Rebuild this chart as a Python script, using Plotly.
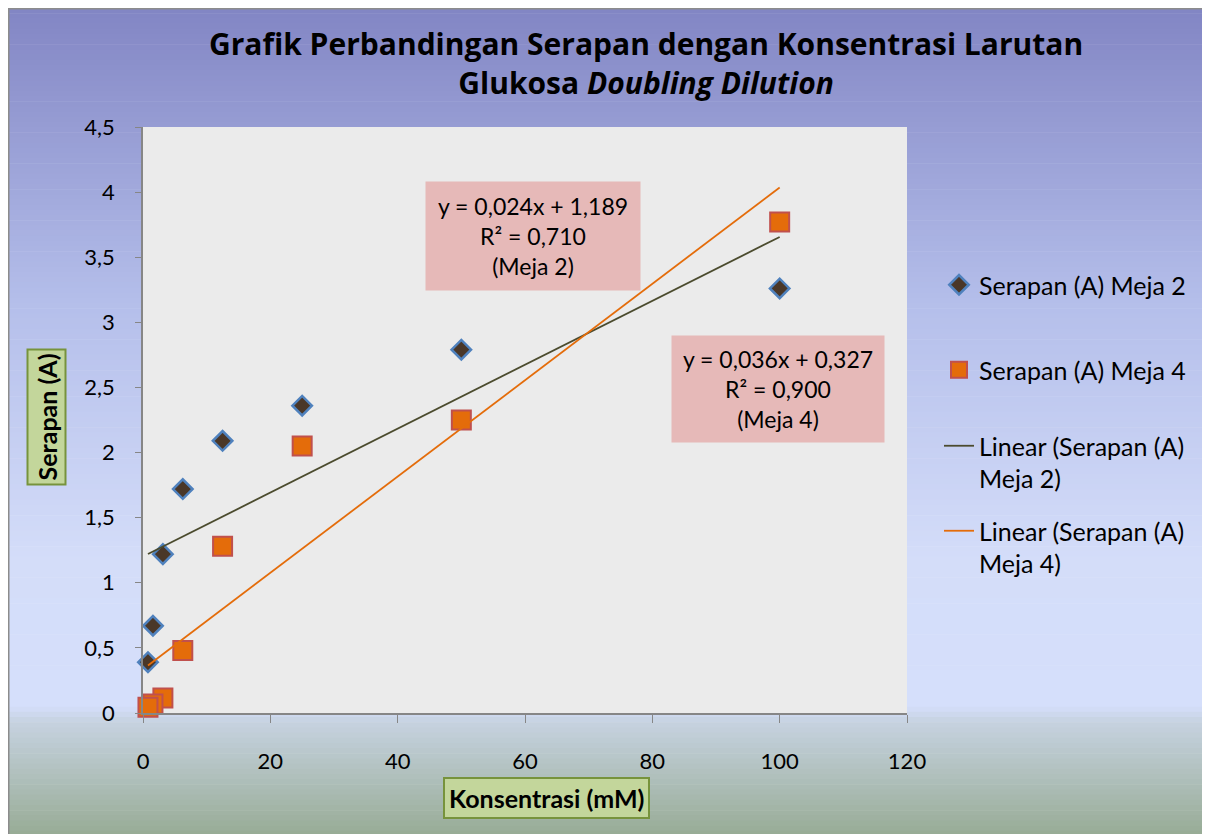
import numpy as np
import plotly.graph_objects as go

# ---------------- data ----------------
konsentrasi = [100, 50, 25, 12.5, 6.25, 3.125, 1.5625, 0.78125]
serapan_meja2 = [3.26, 2.79, 2.36, 2.09, 1.72, 1.22, 0.67, 0.39]
serapan_meja4 = [3.77, 2.25, 2.05, 1.28, 0.48, 0.115, 0.07, 0.045]
x_ticks = [0, 20, 40, 60, 80, 100, 120]
y_ticks = [0, 0.5, 1, 1.5, 2, 2.5, 3, 3.5, 4, 4.5]
eq_meja2 = "y = 0,024x + 1,189<br>R² = 0,710<br>(Meja 2)"
eq_meja4 = "y = 0,036x + 0,327<br>R² = 0,900<br>(Meja 4)"
title_text = "Grafik Perbandingan Serapan dengan Konsentrasi Larutan<br>Glukosa <i>Doubling Dilution</i>"

# ---------------- geometry helpers (page px -> figure paper) ----------------
OFF = 8  # body margin of the page
W, H = 1202, 826
L, R, T, B = 143 - OFF, 907 - OFF, 127 - OFF, 713 - OFF
PW, PH = R - L, B - T

def px(xp):
    return (xp - OFF - L) / PW

def py(yp):
    return (B - (yp - OFF)) / PH

FONT = "Lato"

fig = go.Figure()

x = np.array(konsentrasi)
xs = np.array([x.min(), x.max()])

fig.add_trace(go.Scatter(
    x=konsentrasi, y=serapan_meja2, mode="markers", name="Serapan (A) Meja 2",
    marker=dict(symbol="diamond", size=15, color="#4a3728",
                line=dict(color="#4f81bd", width=2.5)),
    cliponaxis=False, legend="legend"))
fig.add_trace(go.Scatter(
    x=konsentrasi, y=serapan_meja4, mode="markers", name="Serapan (A) Meja 4",
    marker=dict(symbol="square", size=19, color="#e46c0a",
                line=dict(color="#c0504d", width=2)),
    cliponaxis=False, legend="legend2"))

c2 = np.polyfit(x, np.array(serapan_meja2), 1)
c4 = np.polyfit(x, np.array(serapan_meja4), 1)
fig.add_trace(go.Scatter(
    x=xs, y=np.polyval(c2, xs), mode="lines", name="Linear (Serapan (A)<br>Meja 2)",
    line=dict(color="#4b4b2e", width=1.8), legend="legend3"))
fig.add_trace(go.Scatter(
    x=xs, y=np.polyval(c4, xs), mode="lines", name="Linear (Serapan (A)<br>Meja 4)",
    line=dict(color="#e46c0a", width=1.8), legend="legend4"))

# ---------------- background gradient ----------------
stops = [(8, (0x82, 0x86, 0xc4)), (300, (0xb4, 0xbe, 0xea)), (560, (0xd4, 0xdd, 0xf9)),
         (706, (0xd5, 0xdf, 0xfb)), (722, (0xc6, 0xd2, 0xe0)), (834, (0x98, 0xac, 0x96))]

def col_at(yp):
    for (y0, c0), (y1, c1) in zip(stops[:-1], stops[1:]):
        if y0 <= yp <= y1:
            t = (yp - y0) / (y1 - y0)
            return "rgb(%d,%d,%d)" % tuple(round(a + (b - a) * t) for a, b in zip(c0, c1))
    return "rgb(%d,%d,%d)" % stops[-1][1]

shapes = []
n = 160
edges = np.linspace(8, 836, n + 1)
for i in range(n):
    y0, y1 = edges[i], edges[i + 1]
    shapes.append(dict(type="rect", xref="paper", yref="paper", layer="below",
                       x0=px(8), x1=px(1212), y0=py(y1 + 0.6), y1=py(y0),
                       fillcolor=col_at((y0 + y1) / 2), line=dict(width=0)))
# border of chart area
shapes.append(dict(type="rect", xref="paper", yref="paper", layer="below",
                   x0=px(8.5), x1=px(1216), y0=py(842), y1=py(8.5),
                   fillcolor="rgba(0,0,0,0)", line=dict(color="#8c8c8c", width=2)))
# plot area background
shapes.append(dict(type="rect", xref="paper", yref="paper", layer="below",
                   x0=0, x1=1, y0=0, y1=1, fillcolor="#ebebeb", line=dict(width=0)))

annotations = [
    dict(text=title_text, xref="paper", yref="paper", x=px(646), y=py(63),
         xanchor="center", yanchor="middle", showarrow=False,
         font=dict(family="Open Sans", size=30, color="#000000", weight="bold")),
    dict(text=eq_meja2, x=61.3, y=3.663, xref="x", yref="y", showarrow=False,
         bgcolor="#e6b9b8", width=200, height=94, borderpad=7,
         font=dict(family=FONT, size=23, color="#000000")),
    dict(text=eq_meja4, x=99.7, y=2.488, xref="x", yref="y", showarrow=False,
         bgcolor="#e6b9b8", width=198, height=92, borderpad=7,
         font=dict(family=FONT, size=23, color="#000000")),
    dict(text="<b>Serapan (A)</b>", xref="paper", yref="paper", x=px(46.5), y=py(417),
         textangle=-90, showarrow=False, bgcolor="#c3d69b", bordercolor="#77933c",
         borderwidth=2, borderpad=3, xanchor="center", yanchor="middle",
         font=dict(family=FONT, size=25, color="#000000")),
    dict(text="<b>Konsentrasi (mM)</b>", xref="paper", yref="paper", x=px(546), y=py(798),
         showarrow=False, bgcolor="#c3d69b", bordercolor="#77933c",
         borderwidth=2, borderpad=4, xanchor="center", yanchor="middle",
         font=dict(family=FONT, size=25, color="#000000")),
]

def leg(cy):
    return dict(x=px(939), y=py(cy), xanchor="left", yanchor="middle",
                bgcolor="rgba(0,0,0,0)", borderwidth=0, valign="top",
                font=dict(family=FONT, size=25, color="#000000"))

fig.update_layout(
    width=W, height=H,
    margin=dict(l=L, r=W - R, t=T, b=H - B, pad=0),
    paper_bgcolor="#ffffff", plot_bgcolor="#ebebeb",
    separators=",.",
    showlegend=True,
    legend=leg(285), legend2=leg(370), legend3=leg(462), legend4=leg(547),
    shapes=shapes, annotations=annotations,
    xaxis=dict(range=[0, 120], tickvals=x_ticks, showgrid=False, zeroline=False,
               showline=True, linecolor="#868686", linewidth=1.5,
               ticks="outside", ticklen=8, tickcolor="#868686",
               ticklabelstandoff=20,
               tickfont=dict(family=FONT, size=22, color="#000000")),
    yaxis=dict(range=[0, 4.5], tickvals=y_ticks, showgrid=False, zeroline=False,
               showline=True, linecolor="#868686", linewidth=1.5,
               ticks="outside", ticklen=6, tickcolor="#868686",
               ticklabelstandoff=16,
               tickfont=dict(family=FONT, size=22, color="#000000")),
)

fig.write_html("out.html")
